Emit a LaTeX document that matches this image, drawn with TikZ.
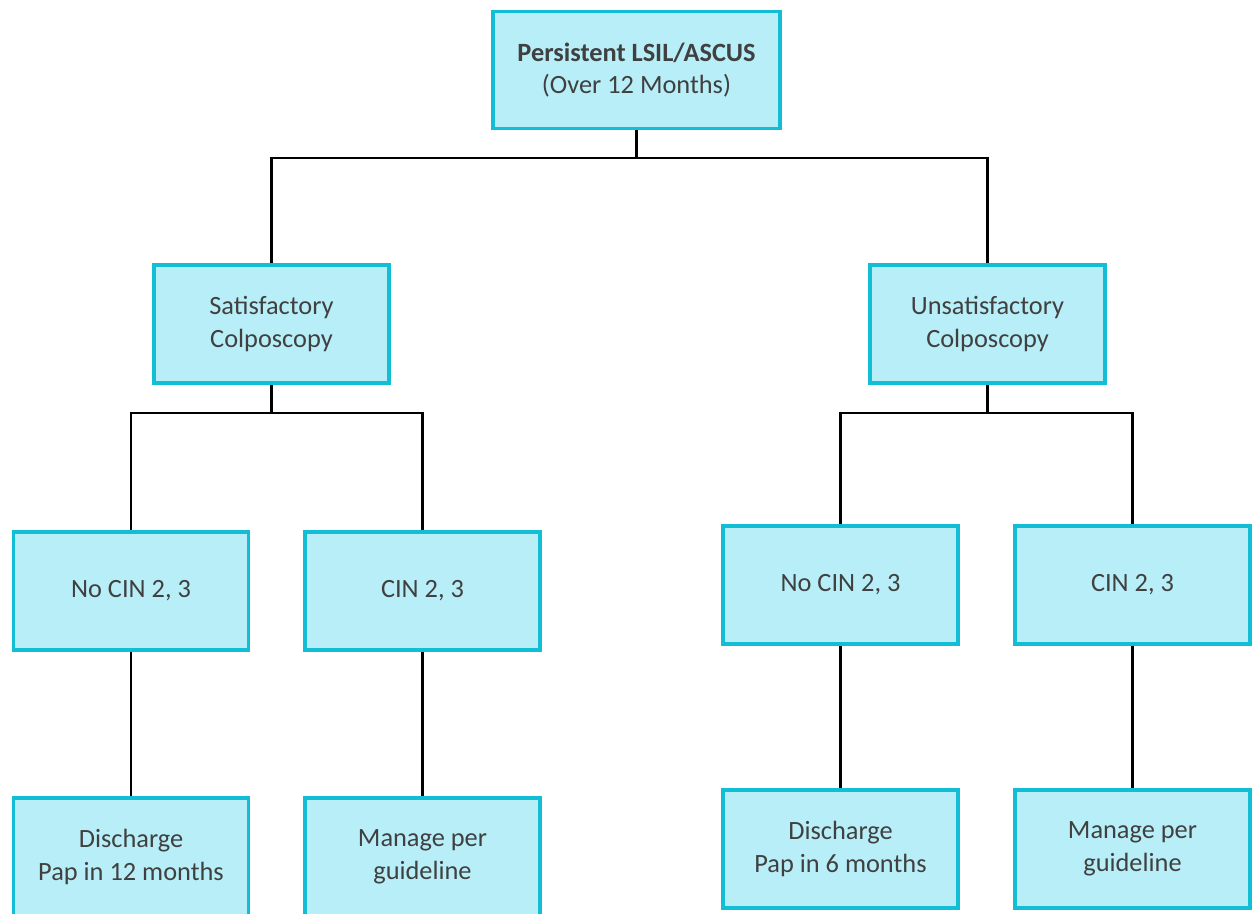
\documentclass[tikz,border=0pt]{standalone}
\usepackage{fontspec}
\setmainfont{Carlito}
\begin{document}
\begin{tikzpicture}[x=0.02cm,y=-0.02cm,
  box/.style={draw=boxline, fill=boxfill, line width=2pt, rectangle,
    minimum width=4.71cm, minimum height=2.37cm, align=center,
    text=textgray, font=\fontsize{15}{18.5}\selectfont},
  wide/.style={minimum width=5.75cm, minimum height=2.35cm},
  link/.style={draw=black, line width=1.5pt}]
\definecolor{boxfill}{HTML}{B7EEF7}
\definecolor{boxline}{HTML}{12BED6}
\definecolor{textgray}{HTML}{404040}
\useasboundingbox (0,0) rectangle (1254,913);
\clip (0,0) rectangle (1254,913);

% box centres of the upper two levels
\coordinate (topC) at (636.5,70);
\coordinate (satC) at (271.5,324);
\coordinate (unsatC) at (987.5,324);

% boxes
\node[box, wide] (top) at (topC) {\textbf{Persistent LSIL/ASCUS}\\(Over 12 Months)};
\node[box] (sat) at (satC) {Satisfactory\\Colposcopy};
\node[box] (unsat) at (unsatC) {Unsatisfactory\\Colposcopy};
\node[box] (nocinL) at (131,591) {No CIN 2, 3};
\node[box] (cinL) at (422.5,591) {CIN 2, 3};
\node[box] (nocinR) at (840.5,585) {No CIN 2, 3};
\node[box] (cinR) at (1132.5,585) {CIN 2, 3};
\node[box] (disL) at (131,857) {Discharge\\Pap in 12 months};
\node[box] (manL) at (422.5,857) {Manage per\\guideline};
\node[box] (disR) at (840.5,849) {Discharge\\Pap in 6 months};
\node[box] (manR) at (1132.5,849) {Manage per\\guideline};

% branch levels
\coordinate (busTop) at (636.5,158);
\coordinate (busSat) at (271.5,413);
\coordinate (busUnsat) at (987.5,413);

% connectors
\draw[link] (top.south) -- (top.south |- busTop) -| (sat.north);
\draw[link] (top.south |- busTop) -| (unsat.north);
\draw[link] (sat.south) -- (sat.south |- busSat) -| (nocinL.north);
\draw[link] (sat.south |- busSat) -| (cinL.north);
\draw[link] (unsat.south) -- (unsat.south |- busUnsat) -| (nocinR.north);
\draw[link] (unsat.south |- busUnsat) -| (cinR.north);
\draw[link] (nocinL) -- (disL);
\draw[link] (cinL) -- (manL);
\draw[link] (nocinR) -- (disR);
\draw[link] (cinR) -- (manR);
\end{tikzpicture}
\end{document}
